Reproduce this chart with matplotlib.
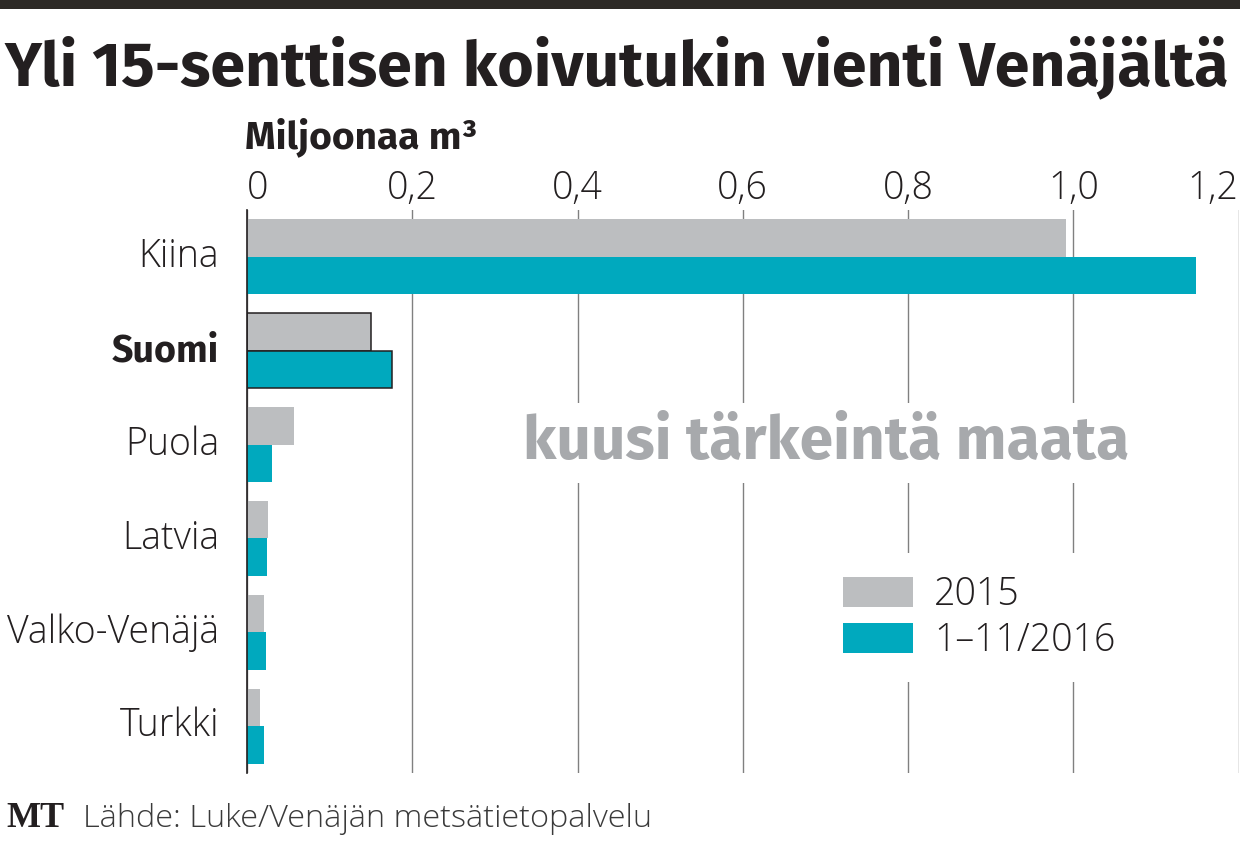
import numpy as np
import matplotlib
matplotlib.use("Agg")
import matplotlib.pyplot as plt
from matplotlib.patches import Patch, Rectangle
from matplotlib.font_manager import FontProperties

# --- data (miljoonaa m3) ---
countries = ["Kiina", "Suomi", "Puola", "Latvia", "Valko-Venäjä", "Turkki"]
vals_2015 = [0.991, 0.150, 0.057, 0.026, 0.021, 0.016]
vals_2016 = [1.148, 0.175, 0.030, 0.024, 0.023, 0.020]
series_labels = ["2015", "1–11/2016"]
xticks = [0, 0.2, 0.4, 0.6, 0.8, 1.0, 1.2]
xtick_labels = ["0", "0,2", "0,4", "0,6", "0,8", "1,0", "1,2"]

GRAY = "#bcbec0"
TEAL = "#00a9be"
INK = "#231f20"

BOLD_FAMILY = ["Fira Sans", "Open Sans"]
light = FontProperties(family="Open Sans", weight="light", size=27)
bold = FontProperties(family=BOLD_FAMILY, weight="bold", size=27)

fig = plt.figure(figsize=(12.4, 8.43), dpi=100, facecolor="white")
ax = fig.add_axes([247 / 1240, 70 / 843, 991.6 / 1240, 563 / 843])

y = np.arange(len(countries))
h = 0.40
b15 = ax.barh(y - h / 2, vals_2015, height=h, color=GRAY, zorder=2)
b16 = ax.barh(y + h / 2, vals_2016, height=h, color=TEAL, zorder=2)
# Suomi korostettuna
for b in (b15[1], b16[1]):
    b.set_edgecolor(INK)
    b.set_linewidth(1.1)

ax.set_xlim(0, 1.2)
ax.set_ylim(len(countries) - 0.5, -0.5)

ax.set_xticks(xticks)
ax.set_xticklabels(xtick_labels)
ax.xaxis.tick_top()
ax.tick_params(axis="x", length=0, pad=1.5)
for i, lab in enumerate(ax.get_xticklabels()):
    lab.set_fontproperties(light)
    lab.set_color(INK)
    if i == 0:
        lab.set_ha("left")
    elif i == len(xticks) - 1:
        lab.set_ha("right")

ax.set_yticks(y)
ax.set_yticklabels(countries)
ax.tick_params(axis="y", length=0, pad=20)
for i, lab in enumerate(ax.get_yticklabels()):
    lab.set_fontproperties(bold if countries[i] == "Suomi" else light)
    lab.set_color(INK)
    lab.set_va("center")

ax.grid(axis="x", color="#808080", linewidth=1.0, zorder=0)
ax.grid(axis="y", visible=False)
ax.set_axisbelow(True)
for s in ("top", "right", "bottom"):
    ax.spines[s].set_visible(False)
ax.spines["left"].set_color(INK)
ax.spines["left"].set_linewidth(1.2)
ax.spines["left"].set_zorder(3)

# keskiteksti valkoisella taustalla
ax.text(0.584, 0.5577, "kuusi tärkeintä maata", transform=ax.transAxes,
        ha="center", va="baseline", color="#a7a9ac",
        fontproperties=FontProperties(family=BOLD_FAMILY, weight="bold", size=43.5),
        bbox=dict(facecolor="white", edgecolor="none", pad=8), zorder=4)

handles = [Patch(facecolor=GRAY), Patch(facecolor=TEAL)]
leg = ax.legend(handles, series_labels, loc="upper left", bbox_to_anchor=(0.5785, 0.391),
                frameon=True, facecolor="white", edgecolor="none", framealpha=1,
                fancybox=False, handlelength=1.87, handleheight=0.85,
                handletextpad=0.55, labelspacing=0.2, borderpad=0.6,
                borderaxespad=0, prop=light)
leg.set_zorder(5)
for t in leg.get_texts():
    t.set_color(INK)

# otsikot
fig.add_artist(Rectangle((0, 1 - 9 / 843), 1, 9 / 843, transform=fig.transFigure,
                         facecolor="#2d2a26", edgecolor="none"))
fig.text(5 / 1240, 1 - 85 / 843, "Yli 15-senttisen koivutukin vienti Venäjältä",
         ha="left", va="baseline", color=INK,
         fontproperties=FontProperties(family=BOLD_FAMILY, weight="bold", size=45))
fig.text(245 / 1240, 1 - 148 / 843, "Miljoonaa m³", ha="left", va="baseline",
         color=INK, fontproperties=FontProperties(family=BOLD_FAMILY, weight="bold", size=28))

fig.text(6 / 1240, 1 - 827 / 843, "MT", ha="left", va="baseline", color=INK,
         fontproperties=FontProperties(family="Liberation Serif", weight="bold", size=26))
fig.text(83 / 1240, 1 - 827 / 843, "Lähde: Luke/Venäjän metsätietopalvelu",
         ha="left", va="baseline", color="#3a3a3a",
         fontproperties=FontProperties(family="Open Sans", weight="light", size=23.4))

fig.savefig("out.png", dpi=100, facecolor="white")
